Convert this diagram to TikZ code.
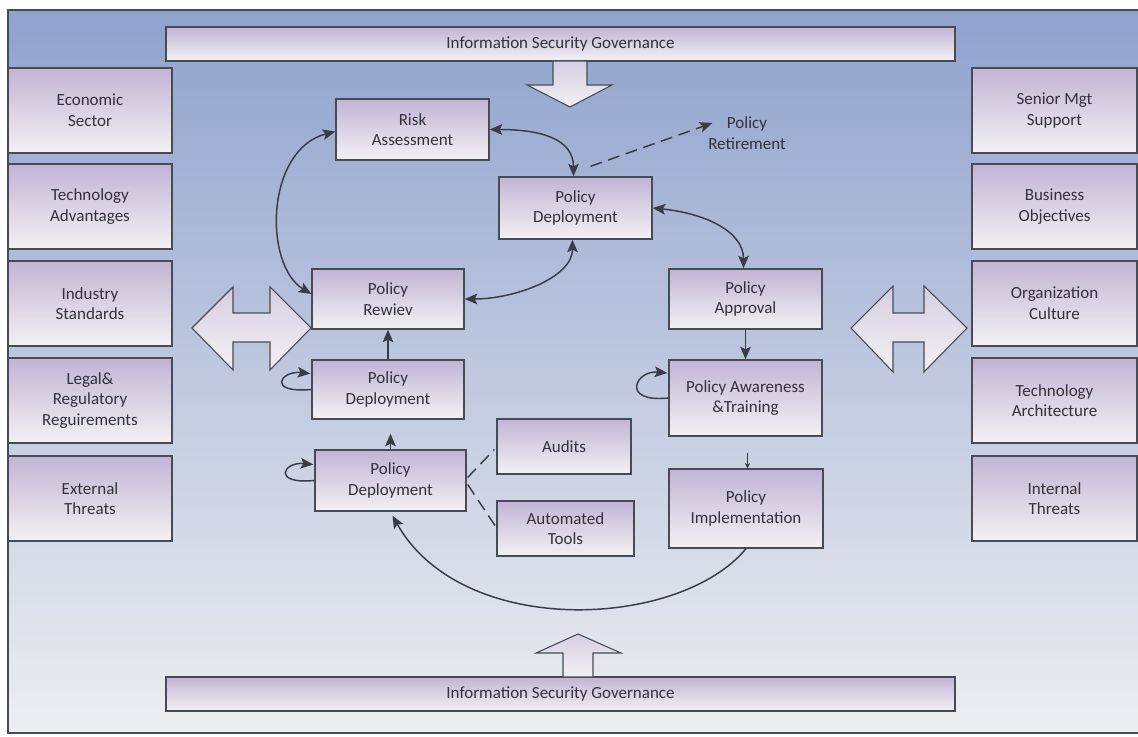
\documentclass[tikz,border=0pt]{standalone}
\usepackage{fontspec}
\setmainfont{Carlito}
\usetikzlibrary{arrows.meta}
\definecolor{bgtop}{RGB}{143,162,205}
\definecolor{bgbot}{RGB}{238,238,241}
\definecolor{boxtop}{RGB}{194,180,213}
\definecolor{boxbot}{RGB}{242,241,244}
\definecolor{arrtop}{RGB}{214,206,226}
\definecolor{boxline}{RGB}{70,75,86}
\definecolor{txt}{RGB}{50,50,60}
\definecolor{conncol}{RGB}{56,60,70}
\tikzset{
  boxst/.style={draw=boxline, line width=1pt, top color=boxtop, bottom color=boxbot,
    align=center, text=txt, inner sep=2pt, font=\fontsize{12.75}{15.5}\selectfont},
  plaintxt/.style={align=center, text=txt, inner sep=2pt, font=\fontsize{12.75}{15.5}\selectfont},
  conn/.style={draw=conncol, line width=1.1pt, arrows={-}},
  tip/.style={arrows={-Stealth[length=9.5pt,width=8pt,inset=2pt]}},
  tips/.style={arrows={Stealth[length=9.5pt,width=8pt,inset=2pt]-Stealth[length=9.5pt,width=8pt,inset=2pt]}},
  dashline/.style={dash pattern=on 9pt off 5pt},
  blockarrow/.style={draw=boxline, line width=0.8pt, top color=arrtop, bottom color=boxbot}
}
\newcommand{\bx}[6]{%
  \node[boxst, minimum width={(#4-#2)*0.75pt}, minimum height={(#5-#3)*0.75pt}] (#1) at ({(#2+#4)/2},{(#3+#5)/2}) {#6};}
\begin{document}
\begin{tikzpicture}[x=0.75pt,y=-0.75pt]
\useasboundingbox (0,0) rectangle (1138,737);
\fill[white] (0,0) rectangle (1138,737);
% background
\shade[top color=bgtop, bottom color=bgbot] (8,10) rectangle (1138,733);
\draw[boxline, line width=0.8pt] (1138,10) -- (8,10) -- (8,733) -- (1138,733);

% banners
\bx{govtop}{166}{27}{955}{61}{Information Security Governance}
\bx{govbot}{166}{677}{955}{711}{Information Security Governance}

% block arrows
\draw[blockarrow] (553,61) -- (587,61) -- (587,85) -- (612,85) -- (570,107) -- (527,85) -- (553,85) -- cycle;
\draw[blockarrow] (563,677) -- (563,653) -- (536,653) -- (578,634) -- (621,653) -- (593,653) -- (593,677) -- cycle;
\draw[blockarrow] (192,328) -- (233,287) -- (233,313) -- (270,313) -- (270,287) -- (311,328) -- (270,370) -- (270,342) -- (233,342) -- (233,370) -- cycle;
\draw[blockarrow] (851,328) -- (893,286) -- (893,313) -- (924,313) -- (924,286) -- (967,328) -- (924,372) -- (924,342) -- (893,342) -- (893,372) -- cycle;

% left column
\bx{econ}{8}{68}{172}{153}{Economic\\Sector}
\bx{techadv}{8}{164}{172}{249}{Technology\\Advantages}
\bx{indstd}{8}{261}{172}{346}{Industry\\Standards}
\bx{legal}{8}{358}{172}{443}{Legal\&\\Regulatory\\Reguirements}
\bx{extthr}{8}{456}{172}{541}{External\\Threats}

% right column
\bx{senior}{972}{68}{1137}{153}{Senior Mgt\\Support}
\bx{busobj}{972}{164}{1137}{249}{Business\\Objectives}
\bx{orgcul}{972}{261}{1137}{346}{Organization\\Culture}
\bx{techarch}{972}{358}{1137}{443}{Technology\\Architecture}
\bx{intthr}{972}{456}{1137}{541}{Internal\\Threats}

% central nodes
\bx{risk}{336}{99}{489}{160}{Risk\\Assessment}
\bx{pd1}{499}{177}{652}{239}{Policy\\Deployment}
\bx{rew}{312}{269}{464}{329}{Policy\\Rewiev}
\bx{app}{669}{269}{822}{329}{Policy\\Approval}
\bx{aw}{669}{360}{822}{436}{Policy Awareness\\\&Training}
\bx{imp}{669}{469}{823}{548}{Policy\\Implementation}
\bx{pd2}{312}{360}{464}{419}{Policy\\Deployment}
\bx{pd3}{315}{450}{466}{511}{Policy\\Deployment}
\bx{aud}{497}{419}{631}{474}{Audits}
\bx{auto}{497}{501}{634}{556}{Automated\\Tools}
\node[plaintxt] (ret) at (747,133) {Policy\\Retirement};

% connectors
\draw[conn,tips] ([shift={(0,2)}]risk.west) .. controls +(-70,18) and +(-48,-29) .. ([shift={(0,-5)}]rew.west);
\draw[conn,tips] (risk.east) .. controls +(50,0) and +(0,-38) .. ([shift={(-2,0)}]pd1.north);
\draw[conn,tip,dashline] ([shift={(15,-10)}]pd1.north) -- ([shift={(7,-10)}]ret.west);
\draw[conn,tips] ([shift={(-3,0)}]pd1.south) .. controls +(0,38) and +(50,0) .. (rew.east);
\draw[conn,tips] (pd1.east) .. controls +(50,5) and +(0,-38) .. ([shift={(-2,0)}]app.north);
\draw[conn,tip] (app.south) -- (aw.north);
\draw[conn,line width=0.6pt,arrows={-Stealth[length=4pt,width=4pt]},shorten <=12pt] ([shift={(2,0)}]aw.south) -- ([shift={(2,0)}]aw.south |- imp.north);
\draw[conn,tip] (imp.south) .. controls +(-66,80) and +(70,124) .. ([shift={(2,4)}]pd3.south);
\draw[conn,tip,shorten >=10.5pt] (pd3.north) -- (pd3.north |- pd2.south);
\draw[conn,tip] (pd2.north) -- (pd2.north |- rew.south);
% self loops
\draw[conn,tip] (pd2.west) .. controls +(-45,4) and +(-30,-3) .. ([shift={(-1,-16)}]pd2.west);
\draw[conn,tip] (pd3.west) .. controls +(-43,4) and +(-30,-3) .. ([shift={(-1,-16)}]pd3.west);
\draw[conn,tip] (aw.west) .. controls +(-48,5) and +(-32,-3) .. ([shift={(-1,-25)}]aw.west);
% dashed links
\draw[conn,dashline] ([shift={(1,-3)}]pd3.east) -- ([shift={(-2,3)}]aud.west);
\draw[conn,dashline] ([shift={(1,4)}]pd3.east) -- ([shift={(0,-1)}]auto.west);
\end{tikzpicture}
\end{document}
